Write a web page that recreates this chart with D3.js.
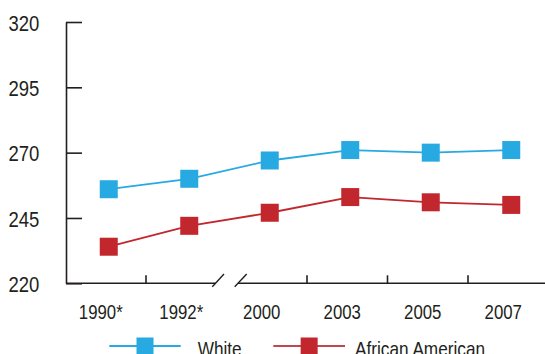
<!DOCTYPE html>
<html>
<head>
<meta charset="utf-8">
<script src="https://cdn.jsdelivr.net/npm/d3@7"></script>
<style>
  html, body { margin: 0; padding: 0; background: #fff; }
  svg { display: block; }
  text { font-family: "Liberation Sans", Arial, sans-serif; fill: #231f20; }
</style>
</head>
<body>
<svg id="chart" width="545" height="354"></svg>
<script>
// Assessment years (starred years use the earlier testing rules)
const categories = ["1990*", "1992*", "2000", "2003", "2005", "2007"];
// Average scale scores by group
const whiteScores = [256, 260, 267, 271, 270, 271];
const africanAmericanScores = [234, 242, 247, 253, 251, 250];
const yTickValues = [220, 245, 270, 295, 320];
const seriesNames = ["White", "African American"];

const BLUE = "#27aae1";
const RED = "#c1272d";
const INK = "#231f20";
const FONT = "'Liberation Sans', Arial, sans-serif";

const svg = d3.select("#chart");

const x = d3.scaleBand().domain(categories).range([65.5, 548.5]);
const y = d3.scaleLinear().domain([220, 320]).range([283.3, 22]);
const bw = x.bandwidth();
const markX = c => x(c) + bw / 2 + 3;

// narrow text: horizontally squeezed around its anchor point
const narrow = (sel, tx, ty, sx) =>
  sel.attr("x", 0).attr("y", 0)
     .attr("transform", (d, i) => `translate(${typeof tx === "function" ? tx(d, i) : tx},${ty}) scale(${sx},1)`);

// Y axis with inward ticks
const yAxis = d3.axisLeft(y)
  .tickValues(yTickValues)
  .tickSize(-16)
  .tickSizeOuter(0)
  .tickFormat(d3.format("d"));

const gy = svg.append("g")
  .attr("transform", "translate(66,0)")
  .call(yAxis);
gy.select(".domain").attr("stroke", INK).attr("stroke-width", 1.6);
gy.selectAll(".tick line").attr("stroke", INK).attr("stroke-width", 1.6);
gy.selectAll(".tick text")
  .attr("font-size", 22.3)
  .attr("dy", "0.36em")
  .style("font-family", FONT)
  .attr("fill", INK)
  .call(narrow, -26.7, 0, 0.83);

// X axis: broken between 1992 and 2000
const axisY = y(220);
const breakAt = x("2000");
const gx = svg.append("g").attr("stroke", INK).attr("stroke-width", 1.6).attr("fill", "none");
gx.append("line").attr("x1", 66).attr("x2", breakAt - 11).attr("y1", axisY).attr("y2", axisY);
gx.append("line").attr("x1", breakAt + 11.5).attr("x2", 545).attr("y1", axisY).attr("y2", axisY);
[[-14.2, -2.5], [8.2, 20.2]].forEach(([a, b]) => {
  gx.append("line")
    .attr("x1", breakAt + a).attr("y1", axisY + 3.4)
    .attr("x2", breakAt + b).attr("y2", axisY - 9.3)
    .attr("stroke-width", 1.4);
});
// category boundary ticks (none at the break)
categories.slice(1).filter(c => c !== "2000").forEach(c => {
  gx.append("line")
    .attr("x1", x(c)).attr("x2", x(c))
    .attr("y1", axisY).attr("y2", axisY - 8);
});
svg.append("g").selectAll("text")
  .data(categories)
  .join("text")
  .attr("text-anchor", "middle")
  .attr("font-size", 21)
  .text(c => c)
  .call(narrow, c => x(c) + bw / 2 - 5, 319.3, 0.8);

// Series lines and square markers
const series = [
  { name: seriesNames[0], values: whiteScores, color: BLUE },
  { name: seriesNames[1], values: africanAmericanScores, color: RED }
];
const line = d3.line().x(d => markX(d.c)).y(d => y(d.v));
const MS = 18;

series.forEach(s => {
  const pts = categories.map((c, i) => ({ c, v: s.values[i] }));
  svg.append("path")
    .datum(pts)
    .attr("d", line)
    .attr("fill", "none")
    .attr("stroke", s.color)
    .attr("stroke-width", 1.8);
  svg.append("g").selectAll("rect")
    .data(pts)
    .join("rect")
    .attr("x", d => markX(d.c) - MS / 2)
    .attr("y", d => y(d.v) - MS / 2)
    .attr("width", MS)
    .attr("height", MS)
    .attr("fill", s.color);
});

// Legend
const legend = [
  { name: seriesNames[0], color: BLUE, lineColor: BLUE, x0: 109.3, x1: 180.7, tx: 197.7 },
  { name: seriesNames[1], color: RED, lineColor: "#c04653", x0: 273.3, x1: 345, tx: 355 }
];
const ly = 346;
legend.forEach(l => {
  const g = svg.append("g");
  g.append("line")
    .attr("x1", l.x0).attr("x2", l.x1).attr("y1", ly).attr("y2", ly)
    .attr("stroke", l.lineColor).attr("stroke-width", 2);
  const cx = (l.x0 + l.x1) / 2;
  g.append("rect")
    .attr("x", cx - 8.5).attr("y", ly - 8.5)
    .attr("width", 17).attr("height", 17)
    .attr("fill", l.color);
  g.append("text")
    .datum(l)
    .attr("font-size", 21)
    .text(l.name)
    .call(narrow, l.tx, 356, 0.82);
});
</script>
</body>
</html>
